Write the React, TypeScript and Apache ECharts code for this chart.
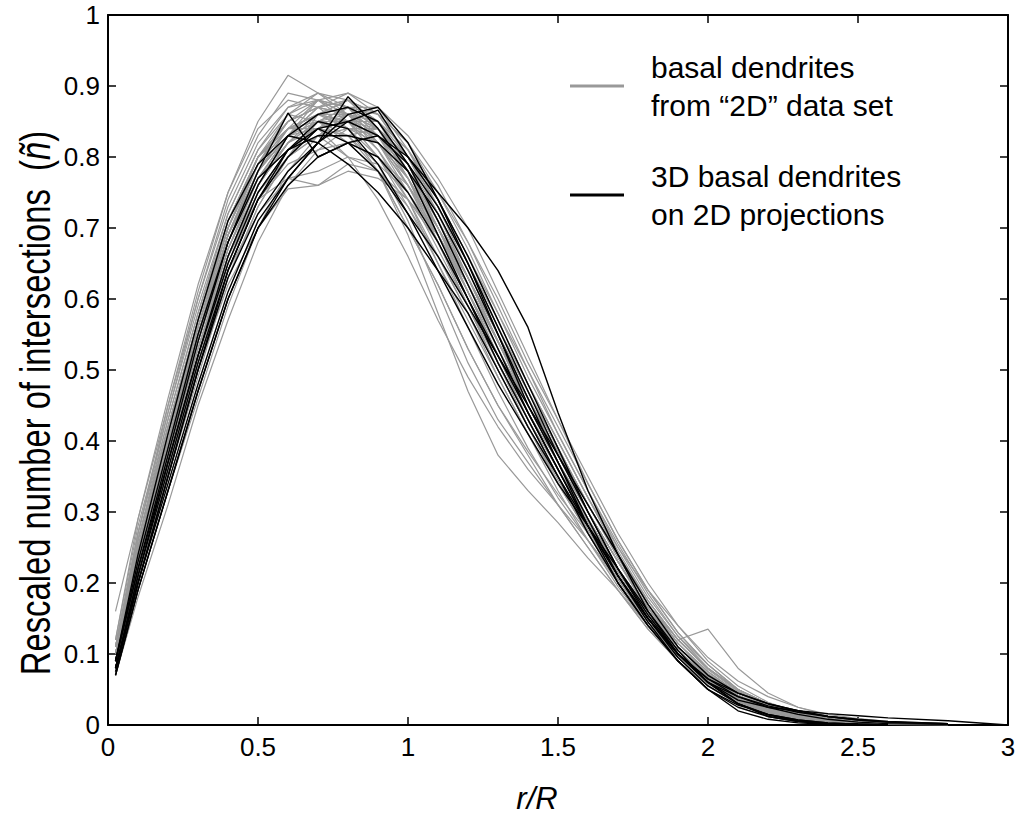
import React, { useEffect, useRef } from "react";
import * as echarts from "echarts";

const FONT = '"Liberation Sans", Arial, Helvetica, sans-serif';

// r/R sample positions shared by every curve
const xs = [0.025, 0.1, 0.2, 0.3, 0.4, 0.5, 0.6, 0.7, 0.8, 0.9, 1.0, 1.1, 1.2, 1.3, 1.4, 1.5, 1.6, 1.7, 1.8, 1.9, 2.0, 2.1, 2.2, 2.3, 2.4, 2.5, 2.6, 2.8, 3.0];

const grayName = "basal dendrites\nfrom “2D” data set";
const blackName = "3D basal dendrites\non 2D projections";

// basal dendrites from "2D" data set (grey)
const g01 = [0.09, 0.24, 0.40, 0.55, 0.69, 0.78, 0.83, 0.86, 0.87, 0.84, 0.78, 0.70, 0.61, 0.52, 0.43, 0.35, 0.28, 0.21, 0.15, 0.10, 0.06, 0.035, 0.02, 0.012, 0.007, 0.004, 0.002, 0.001, null];
const g02 = [0.10, 0.26, 0.43, 0.58, 0.72, 0.81, 0.86, 0.88, 0.87, 0.84, 0.77, 0.68, 0.59, 0.50, 0.42, 0.34, 0.27, 0.20, 0.14, 0.09, 0.055, 0.03, 0.016, 0.009, 0.005, 0.003, 0.002, 0.001, null];
const g03 = [0.16, 0.29, 0.45, 0.61, 0.75, 0.85, 0.915, 0.89, 0.88, 0.85, 0.78, 0.69, 0.60, 0.51, 0.42, 0.34, 0.27, 0.20, 0.14, 0.095, 0.06, 0.035, 0.02, 0.012, 0.007, 0.004, 0.002, 0.001, null];
const g04 = [0.08, 0.21, 0.35, 0.50, 0.62, 0.70, 0.755, 0.76, 0.79, 0.78, 0.74, 0.68, 0.60, 0.52, 0.44, 0.37, 0.30, 0.23, 0.165, 0.11, 0.07, 0.04, 0.022, 0.012, 0.007, 0.004, 0.002, 0.001, null];
const g05 = [0.11, 0.27, 0.43, 0.58, 0.71, 0.80, 0.84, 0.85, 0.82, 0.78, 0.69, 0.58, 0.47, 0.38, 0.33, 0.285, 0.235, 0.19, 0.14, 0.095, 0.06, 0.035, 0.02, 0.012, 0.007, 0.004, 0.002, 0.001, null];
const g06 = [0.09, 0.23, 0.39, 0.54, 0.68, 0.77, 0.82, 0.84, 0.83, 0.79, 0.71, 0.61, 0.51, 0.43, 0.37, 0.31, 0.25, 0.19, 0.135, 0.09, 0.055, 0.03, 0.017, 0.01, 0.006, 0.003, 0.002, 0.001, null];
const g07 = [0.09, 0.22, 0.37, 0.52, 0.66, 0.76, 0.82, 0.85, 0.86, 0.84, 0.79, 0.72, 0.64, 0.55, 0.47, 0.39, 0.31, 0.24, 0.17, 0.12, 0.135, 0.08, 0.045, 0.025, 0.013, 0.007, 0.004, 0.002, null];
const g08 = [0.08, 0.20, 0.35, 0.49, 0.63, 0.73, 0.80, 0.84, 0.87, 0.86, 0.82, 0.75, 0.67, 0.58, 0.49, 0.41, 0.33, 0.25, 0.18, 0.125, 0.085, 0.05, 0.03, 0.018, 0.01, 0.006, 0.003, 0.001, null];
const g09 = [0.10, 0.25, 0.41, 0.56, 0.70, 0.79, 0.85, 0.87, 0.86, 0.82, 0.76, 0.69, 0.61, 0.53, 0.45, 0.37, 0.29, 0.22, 0.16, 0.11, 0.07, 0.04, 0.022, 0.012, 0.007, 0.004, 0.002, 0.001, null];
const g10 = [0.09, 0.23, 0.38, 0.52, 0.66, 0.75, 0.80, 0.83, 0.84, 0.83, 0.78, 0.71, 0.63, 0.54, 0.46, 0.38, 0.30, 0.23, 0.16, 0.105, 0.065, 0.037, 0.02, 0.011, 0.006, 0.004, 0.002, 0.001, null];
const g11 = [0.12, 0.28, 0.44, 0.60, 0.73, 0.82, 0.87, 0.88, 0.85, 0.80, 0.73, 0.65, 0.57, 0.49, 0.41, 0.34, 0.27, 0.205, 0.145, 0.095, 0.058, 0.032, 0.017, 0.009, 0.005, 0.003, 0.001, 0.0, null];
const g12 = [0.08, 0.21, 0.36, 0.50, 0.64, 0.74, 0.80, 0.86, 0.88, 0.86, 0.80, 0.72, 0.63, 0.54, 0.45, 0.37, 0.29, 0.22, 0.155, 0.10, 0.06, 0.033, 0.018, 0.01, 0.006, 0.003, 0.002, 0.001, null];
const g13 = [0.09, 0.24, 0.40, 0.54, 0.67, 0.76, 0.83, 0.88, 0.86, 0.83, 0.77, 0.70, 0.62, 0.53, 0.45, 0.37, 0.30, 0.23, 0.165, 0.11, 0.07, 0.042, 0.024, 0.014, 0.008, 0.005, 0.003, 0.001, null];
const g14 = [0.10, 0.25, 0.42, 0.57, 0.71, 0.80, 0.84, 0.86, 0.84, 0.80, 0.74, 0.66, 0.58, 0.50, 0.42, 0.35, 0.28, 0.215, 0.155, 0.105, 0.068, 0.04, 0.022, 0.012, 0.007, 0.004, 0.002, 0.001, null];
const g15 = [0.08, 0.21, 0.36, 0.51, 0.64, 0.74, 0.80, 0.83, 0.85, 0.85, 0.81, 0.74, 0.66, 0.57, 0.48, 0.40, 0.32, 0.25, 0.19, 0.14, 0.095, 0.062, 0.04, 0.025, 0.015, 0.009, 0.005, 0.002, null];
const g16 = [0.11, 0.26, 0.42, 0.57, 0.70, 0.79, 0.85, 0.87, 0.88, 0.84, 0.77, 0.68, 0.60, 0.51, 0.43, 0.35, 0.28, 0.21, 0.15, 0.10, 0.063, 0.036, 0.019, 0.01, 0.006, 0.003, 0.002, 0.001, null];
const g17 = [0.09, 0.22, 0.37, 0.51, 0.65, 0.74, 0.79, 0.81, 0.82, 0.80, 0.76, 0.70, 0.63, 0.55, 0.47, 0.39, 0.31, 0.24, 0.17, 0.115, 0.072, 0.042, 0.024, 0.013, 0.007, 0.004, 0.002, 0.001, null];
const g18 = [0.10, 0.24, 0.39, 0.55, 0.69, 0.79, 0.86, 0.89, 0.87, 0.82, 0.75, 0.67, 0.59, 0.51, 0.43, 0.36, 0.29, 0.22, 0.16, 0.11, 0.07, 0.04, 0.022, 0.012, 0.007, 0.004, 0.002, 0.001, null];
const g19 = [0.09, 0.23, 0.38, 0.53, 0.67, 0.77, 0.83, 0.84, 0.86, 0.85, 0.80, 0.73, 0.65, 0.56, 0.48, 0.40, 0.32, 0.245, 0.175, 0.12, 0.078, 0.047, 0.027, 0.015, 0.009, 0.005, 0.003, 0.001, null];
const g20 = [0.10, 0.26, 0.42, 0.56, 0.69, 0.77, 0.81, 0.83, 0.80, 0.78, 0.73, 0.66, 0.58, 0.49, 0.41, 0.33, 0.26, 0.195, 0.14, 0.095, 0.06, 0.034, 0.018, 0.009, 0.005, 0.003, 0.001, 0.0, null];
const g21 = [0.08, 0.22, 0.37, 0.52, 0.66, 0.76, 0.83, 0.87, 0.89, 0.87, 0.81, 0.73, 0.64, 0.55, 0.46, 0.38, 0.30, 0.23, 0.165, 0.11, 0.07, 0.04, 0.022, 0.013, 0.008, 0.005, 0.003, 0.001, null];
const g22 = [0.09, 0.25, 0.41, 0.55, 0.68, 0.78, 0.84, 0.86, 0.85, 0.81, 0.75, 0.68, 0.60, 0.52, 0.44, 0.36, 0.285, 0.215, 0.155, 0.105, 0.066, 0.038, 0.02, 0.011, 0.006, 0.004, 0.002, 0.001, null];
const g23 = [0.10, 0.24, 0.40, 0.56, 0.70, 0.80, 0.86, 0.85, 0.87, 0.85, 0.79, 0.71, 0.62, 0.53, 0.44, 0.36, 0.285, 0.22, 0.16, 0.11, 0.072, 0.045, 0.028, 0.017, 0.01, 0.006, 0.003, 0.001, null];
const g24 = [0.09, 0.22, 0.37, 0.51, 0.64, 0.72, 0.77, 0.78, 0.80, 0.79, 0.75, 0.69, 0.62, 0.54, 0.46, 0.38, 0.30, 0.23, 0.165, 0.11, 0.07, 0.04, 0.022, 0.012, 0.007, 0.004, 0.002, 0.001, null];
const g25 = [0.11, 0.27, 0.44, 0.59, 0.72, 0.81, 0.87, 0.89, 0.86, 0.82, 0.76, 0.68, 0.60, 0.51, 0.43, 0.35, 0.275, 0.205, 0.145, 0.097, 0.06, 0.034, 0.018, 0.01, 0.006, 0.003, 0.002, 0.001, null];
const g26 = [0.09, 0.23, 0.38, 0.53, 0.66, 0.76, 0.82, 0.85, 0.85, 0.82, 0.77, 0.70, 0.62, 0.54, 0.46, 0.385, 0.31, 0.24, 0.175, 0.12, 0.08, 0.05, 0.03, 0.018, 0.011, 0.007, 0.004, 0.002, null];
const g27 = [0.10, 0.25, 0.40, 0.55, 0.69, 0.78, 0.83, 0.87, 0.86, 0.83, 0.78, 0.70, 0.61, 0.52, 0.43, 0.35, 0.27, 0.20, 0.14, 0.09, 0.055, 0.03, 0.016, 0.009, 0.005, 0.003, 0.002, 0.001, null];
const g28 = [0.08, 0.21, 0.36, 0.51, 0.65, 0.75, 0.81, 0.84, 0.83, 0.84, 0.80, 0.73, 0.65, 0.57, 0.48, 0.40, 0.32, 0.24, 0.17, 0.115, 0.075, 0.045, 0.026, 0.015, 0.009, 0.005, 0.003, 0.001, null];
const g29 = [0.07, 0.18, 0.31, 0.45, 0.57, 0.68, 0.76, 0.81, 0.84, 0.84, 0.80, 0.74, 0.66, 0.58, 0.50, 0.42, 0.34, 0.26, 0.19, 0.13, 0.085, 0.05, 0.03, 0.018, 0.01, 0.006, 0.003, 0.001, null];
const g30 = [0.08, 0.19, 0.33, 0.46, 0.59, 0.70, 0.78, 0.83, 0.86, 0.85, 0.81, 0.75, 0.68, 0.60, 0.51, 0.43, 0.35, 0.27, 0.20, 0.14, 0.09, 0.055, 0.032, 0.018, 0.01, 0.006, 0.003, 0.001, null];
const g31 = [0.12, 0.29, 0.46, 0.62, 0.75, 0.84, 0.88, 0.87, 0.84, 0.78, 0.70, 0.62, 0.53, 0.45, 0.38, 0.31, 0.25, 0.19, 0.135, 0.09, 0.055, 0.03, 0.016, 0.009, 0.005, 0.003, 0.002, 0.001, null];
const g32 = [0.11, 0.27, 0.45, 0.60, 0.74, 0.83, 0.89, 0.88, 0.86, 0.81, 0.74, 0.65, 0.56, 0.47, 0.39, 0.32, 0.26, 0.20, 0.145, 0.10, 0.062, 0.036, 0.02, 0.011, 0.006, 0.004, 0.002, 0.001, null];
const g33 = [0.10, 0.25, 0.41, 0.56, 0.70, 0.79, 0.84, 0.84, 0.80, 0.74, 0.66, 0.57, 0.49, 0.42, 0.36, 0.31, 0.26, 0.205, 0.15, 0.10, 0.065, 0.038, 0.021, 0.012, 0.007, 0.004, 0.002, 0.001, null];
const g34 = [0.09, 0.24, 0.40, 0.55, 0.69, 0.78, 0.83, 0.85, 0.83, 0.78, 0.70, 0.62, 0.53, 0.45, 0.385, 0.325, 0.27, 0.21, 0.155, 0.105, 0.068, 0.04, 0.022, 0.012, 0.007, 0.004, 0.002, 0.001, null];
const g35 = [0.08, 0.20, 0.35, 0.50, 0.63, 0.73, 0.80, 0.85, 0.87, 0.87, 0.83, 0.77, 0.70, 0.61, 0.52, 0.43, 0.34, 0.26, 0.19, 0.13, 0.085, 0.05, 0.03, 0.017, 0.01, 0.006, 0.003, 0.001, null];
const g36 = [0.09, 0.22, 0.37, 0.52, 0.66, 0.76, 0.82, 0.86, 0.88, 0.86, 0.82, 0.76, 0.68, 0.59, 0.50, 0.41, 0.33, 0.255, 0.185, 0.125, 0.08, 0.048, 0.028, 0.016, 0.009, 0.005, 0.003, 0.001, null];
const g37 = [0.10, 0.24, 0.39, 0.54, 0.68, 0.78, 0.84, 0.86, 0.86, 0.84, 0.79, 0.71, 0.63, 0.54, 0.45, 0.37, 0.29, 0.22, 0.16, 0.11, 0.07, 0.04, 0.022, 0.012, 0.007, 0.004, 0.002, 0.001, null];
const g38 = [0.09, 0.23, 0.39, 0.54, 0.68, 0.78, 0.83, 0.85, 0.84, 0.82, 0.77, 0.69, 0.61, 0.52, 0.44, 0.36, 0.29, 0.22, 0.16, 0.11, 0.07, 0.042, 0.024, 0.013, 0.007, 0.004, 0.002, 0.001, null];
const g39 = [0.10, 0.25, 0.41, 0.57, 0.71, 0.80, 0.85, 0.87, 0.88, 0.85, 0.79, 0.70, 0.61, 0.52, 0.44, 0.36, 0.28, 0.21, 0.15, 0.10, 0.064, 0.037, 0.02, 0.011, 0.006, 0.003, 0.002, 0.001, null];
const g40 = [0.08, 0.22, 0.37, 0.52, 0.66, 0.75, 0.81, 0.84, 0.85, 0.84, 0.80, 0.73, 0.65, 0.56, 0.47, 0.39, 0.31, 0.235, 0.17, 0.115, 0.075, 0.045, 0.026, 0.015, 0.009, 0.005, 0.003, 0.001, null];
const g41 = [0.09, 0.23, 0.38, 0.53, 0.66, 0.74, 0.77, 0.76, 0.78, 0.77, 0.74, 0.69, 0.62, 0.54, 0.46, 0.38, 0.30, 0.23, 0.165, 0.11, 0.07, 0.04, 0.023, 0.013, 0.007, 0.004, 0.002, 0.001, null];
const g42 = [0.11, 0.26, 0.42, 0.57, 0.70, 0.80, 0.85, 0.88, 0.87, 0.83, 0.76, 0.68, 0.59, 0.50, 0.42, 0.345, 0.275, 0.21, 0.15, 0.10, 0.063, 0.036, 0.019, 0.01, 0.006, 0.003, 0.002, 0.001, null];
const g43 = [0.09, 0.23, 0.39, 0.54, 0.67, 0.77, 0.83, 0.86, 0.85, 0.83, 0.78, 0.71, 0.63, 0.55, 0.47, 0.39, 0.31, 0.24, 0.175, 0.12, 0.08, 0.05, 0.03, 0.018, 0.011, 0.007, 0.004, 0.002, null];
const g44 = [0.10, 0.24, 0.40, 0.55, 0.69, 0.79, 0.84, 0.88, 0.89, 0.86, 0.80, 0.72, 0.63, 0.54, 0.45, 0.37, 0.29, 0.22, 0.155, 0.105, 0.066, 0.038, 0.021, 0.012, 0.007, 0.004, 0.002, 0.001, null];

// 3D basal dendrites on 2D projections (black)
const b01 = [0.08, 0.20, 0.35, 0.50, 0.63, 0.72, 0.78, 0.82, 0.885, 0.84, 0.78, 0.69, 0.60, 0.51, 0.43, 0.35, 0.27, 0.20, 0.14, 0.09, 0.05, 0.02, 0.008, 0.003, 0.001, 0.0, null, null, null];
const b02 = [0.09, 0.22, 0.38, 0.54, 0.68, 0.78, 0.862, 0.80, 0.82, 0.80, 0.75, 0.68, 0.60, 0.52, 0.44, 0.36, 0.28, 0.21, 0.15, 0.10, 0.06, 0.03, 0.012, 0.005, 0.002, 0.001, null, null, null];
const b03 = [0.07, 0.19, 0.33, 0.47, 0.60, 0.70, 0.77, 0.82, 0.85, 0.866, 0.80, 0.75, 0.70, 0.64, 0.56, 0.44, 0.33, 0.24, 0.16, 0.10, 0.06, 0.035, 0.025, 0.02, 0.016, 0.013, 0.01, 0.006, 0.0];
const b04 = [0.08, 0.20, 0.34, 0.48, 0.61, 0.71, 0.77, 0.82, 0.86, 0.87, 0.82, 0.74, 0.65, 0.55, 0.45, 0.37, 0.29, 0.21, 0.145, 0.09, 0.05, 0.025, 0.012, 0.005, 0.002, 0.001, 0.0, null, null];
const b05 = [0.09, 0.23, 0.39, 0.55, 0.68, 0.77, 0.81, 0.83, 0.83, 0.82, 0.78, 0.72, 0.64, 0.55, 0.46, 0.37, 0.28, 0.20, 0.14, 0.09, 0.05, 0.028, 0.015, 0.007, 0.003, 0.001, 0.0, null, null];
const b06 = [0.08, 0.21, 0.37, 0.52, 0.65, 0.75, 0.81, 0.85, 0.84, 0.79, 0.72, 0.64, 0.56, 0.48, 0.41, 0.34, 0.28, 0.22, 0.16, 0.105, 0.06, 0.03, 0.014, 0.006, 0.002, 0.001, 0.0, null, null];
const b07 = [0.07, 0.19, 0.33, 0.47, 0.60, 0.70, 0.76, 0.80, 0.82, 0.83, 0.80, 0.74, 0.66, 0.57, 0.48, 0.39, 0.30, 0.22, 0.15, 0.095, 0.055, 0.03, 0.015, 0.007, 0.003, 0.001, 0.0, null, null];
const b08 = [0.09, 0.24, 0.41, 0.57, 0.71, 0.79, 0.83, 0.82, 0.79, 0.75, 0.70, 0.64, 0.58, 0.50, 0.42, 0.35, 0.28, 0.21, 0.15, 0.10, 0.065, 0.045, 0.03, 0.02, 0.012, 0.008, 0.005, 0.002, null];
const b09 = [0.08, 0.21, 0.36, 0.51, 0.64, 0.74, 0.80, 0.84, 0.85, 0.83, 0.79, 0.73, 0.65, 0.56, 0.47, 0.38, 0.30, 0.22, 0.155, 0.10, 0.06, 0.04, 0.027, 0.018, 0.012, 0.007, 0.004, 0.001, null];
const b10 = [0.09, 0.22, 0.37, 0.52, 0.66, 0.76, 0.83, 0.86, 0.87, 0.85, 0.79, 0.71, 0.62, 0.53, 0.44, 0.36, 0.28, 0.21, 0.15, 0.10, 0.065, 0.04, 0.025, 0.015, 0.008, 0.004, 0.002, 0.001, null];
const b11 = [0.075, 0.20, 0.35, 0.50, 0.64, 0.74, 0.81, 0.84, 0.82, 0.78, 0.72, 0.66, 0.59, 0.52, 0.45, 0.38, 0.31, 0.24, 0.17, 0.11, 0.07, 0.045, 0.03, 0.02, 0.012, 0.007, 0.004, 0.002, null];

const grayCurves = [g01, g02, g03, g04, g05, g06, g07, g08, g09, g10, g11, g12, g13, g14, g15, g16, g17, g18, g19, g20, g21, g22, g23, g24, g25, g26, g27, g28, g29, g30, g31, g32, g33, g34, g35, g36, g37, g38, g39, g40, g41, g42, g43, g44];
const blackCurves = [b01, b02, b03, b04, b05, b06, b07, b08, b09, b10, b11];

const GRAY = "#999999";
const BLACK = "#000000";

function toPoints(ys: (number | null)[]) {
  const pts: [number, number][] = [];
  ys.forEach((y, i) => {
    if (y !== null && y !== undefined) pts.push([xs[i], y]);
  });
  return pts;
}

function makeSeries(curves: (number | null)[][], name: string, color: string, width: number, z: number) {
  return curves.map((ys) => ({
    type: "line",
    name,
    data: toPoints(ys),
    showSymbol: false,
    symbol: "none",
    silent: true,
    z,
    lineStyle: { color, width },
    itemStyle: { color },
    emphasis: { disabled: true },
  }));
}

const axisLineStyle = { color: "#000", width: 2 };
const tickStyle = { color: "#000", width: 1.5 };

function buildOption() {
  return {
    animation: false,
    backgroundColor: "#ffffff",
    grid: { left: 108, right: 15, top: 15, bottom: 93, containLabel: false },
    legend: {
      data: [grayName, blackName],
      orient: "vertical",
      left: 570,
      top: 48,
      padding: 0,
      itemGap: 33,
      itemWidth: 54,
      itemHeight: 3,
      icon: "rect",
      selectedMode: false,
      textStyle: {
        fontSize: 30,
        lineHeight: 38,
        color: "#000",
        fontFamily: FONT,
        padding: [0, 0, 0, 22],
      },
    },
    xAxis: [
      {
        type: "value",
        min: 0,
        max: 3,
        interval: 0.5,
        position: "bottom",
        name: "r/R",
        nameLocation: "middle",
        nameGap: 58,
        nameTextStyle: {
          fontSize: 31,
          fontStyle: "italic",
          color: "#000",
          fontFamily: FONT,
          padding: [0, 42, 0, 0],
        },
        axisLine: { show: true, onZero: false, lineStyle: axisLineStyle },
        axisTick: { show: true, inside: true, length: 8, lineStyle: tickStyle },
        axisLabel: { fontSize: 26, color: "#000", fontFamily: FONT, margin: 9 },
        splitLine: { show: false },
      },
      {
        type: "value",
        min: 0,
        max: 3,
        interval: 0.5,
        position: "top",
        axisLine: { show: true, onZero: false, lineStyle: axisLineStyle },
        axisTick: { show: true, inside: true, length: 8, lineStyle: tickStyle },
        axisLabel: { show: false },
        splitLine: { show: false },
      },
    ],
    yAxis: [
      {
        type: "value",
        min: 0,
        max: 1,
        interval: 0.1,
        position: "left",
        axisLine: { show: true, onZero: false, lineStyle: axisLineStyle },
        axisTick: { show: true, inside: true, length: 8, lineStyle: tickStyle },
        axisLabel: {
          fontSize: 26,
          color: "#000",
          fontFamily: FONT,
          margin: 8,
          formatter: (v: number) => (v === 0 ? "0" : v === 1 ? "1" : v.toFixed(1)),
        },
        splitLine: { show: false },
      },
      {
        type: "value",
        min: 0,
        max: 1,
        interval: 0.1,
        position: "right",
        axisLine: { show: true, onZero: false, lineStyle: axisLineStyle },
        axisTick: { show: true, inside: true, length: 8, lineStyle: tickStyle },
        axisLabel: { show: false },
        splitLine: { show: false },
      },
    ],
    graphic: [
      {
        type: "text",
        x: 36,
        y: 403,
        rotation: Math.PI / 2,
        scaleX: 0.78,
        silent: true,
        style: {
          text: "{a|Rescaled number of intersections  (}{b|ñ}{a|)}",
          align: "center",
          verticalAlign: "middle",
          fill: "#000",
          fontFamily: FONT,
          fontSize: 42,
          rich: {
            a: { fontSize: 42, fontFamily: FONT, fill: "#000" },
            b: { fontSize: 42, fontFamily: FONT, fontStyle: "italic", fill: "#000" },
          },
        },
      },
    ],
    series: [
      ...makeSeries(grayCurves, grayName, GRAY, 1.2, 2),
      ...makeSeries(blackCurves, blackName, BLACK, 1.4, 3),
    ],
  };
}

export default function App() {
  const ref = useRef<HTMLDivElement>(null);
  useEffect(() => {
    if (!ref.current) return;
    const chart = echarts.init(ref.current, null, { renderer: "svg" });
    chart.setOption(buildOption() as any);
    return () => chart.dispose();
  }, []);
  return (
    <div
      ref={ref}
      style={{ position: "fixed", left: 0, top: 0, width: 1023, height: 819, background: "#fff" }}
    />
  );
}
